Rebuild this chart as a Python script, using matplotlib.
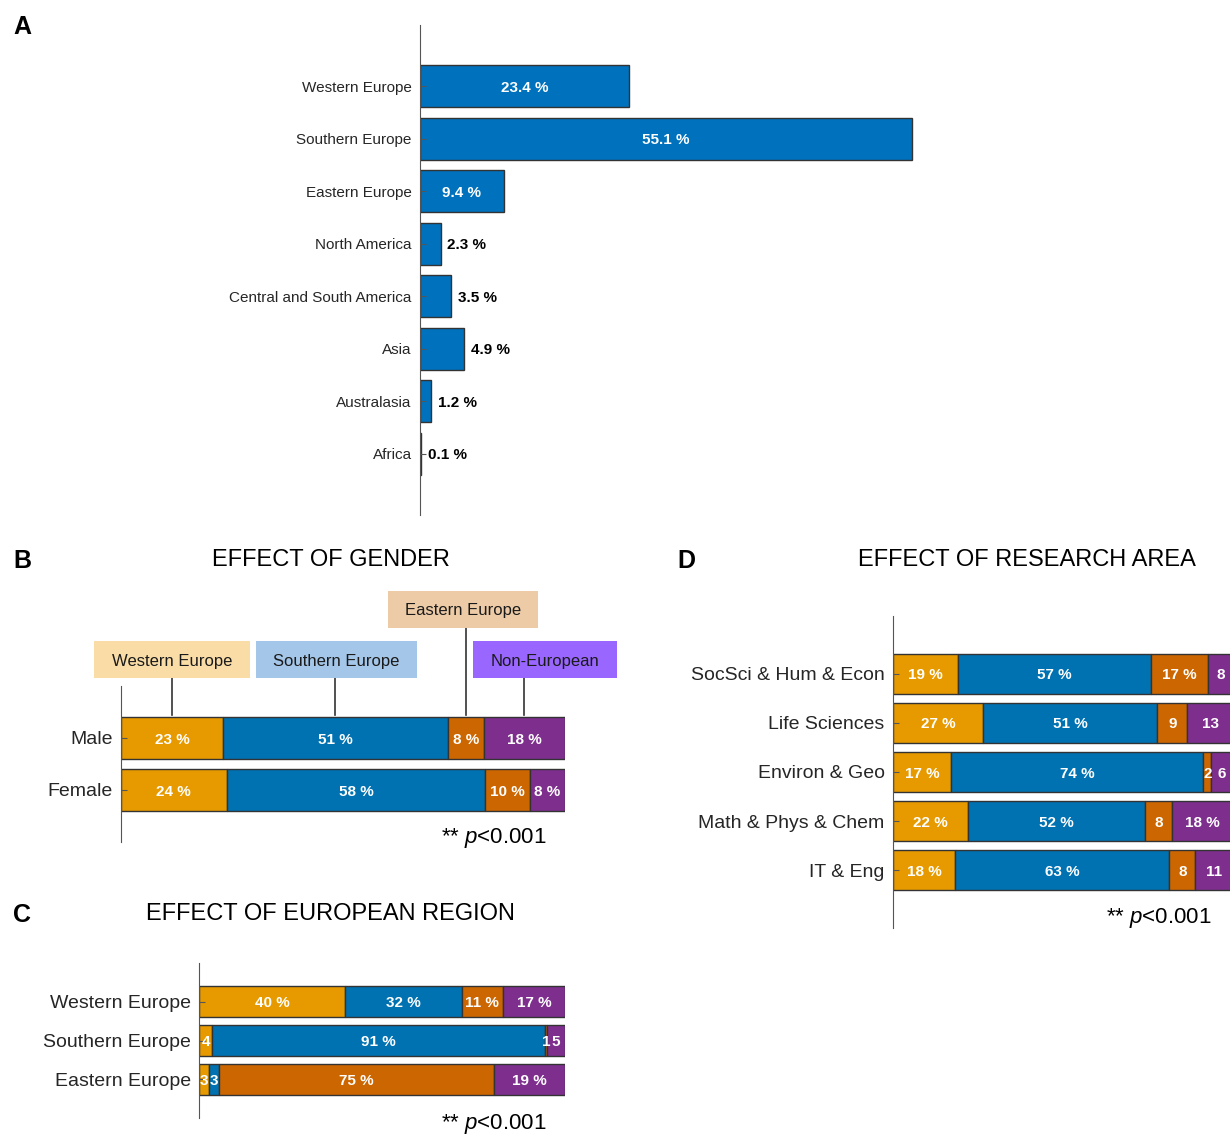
import matplotlib
matplotlib.use("Agg")
import matplotlib.pyplot as plt
from matplotlib.patches import Rectangle
import numpy as np

plt.rcParams['font.family'] = ['Liberation Sans', 'DejaVu Sans']
plt.rcParams['mathtext.fontset'] = 'custom'
plt.rcParams['mathtext.rm'] = 'Liberation Sans'
plt.rcParams['mathtext.it'] = 'Liberation Sans:italic'

# ---- data ----
regions_a = ['Western Europe', 'Southern Europe', 'Eastern Europe', 'North America',
             'Central and South America', 'Asia', 'Australasia', 'Africa']
share_a = [23.4, 55.1, 9.4, 2.3, 3.5, 4.9, 1.2, 0.1]

groups = ['Western Europe', 'Southern Europe', 'Eastern Europe', 'Non-European']

gender_cats = ['Male', 'Female']
gender_west = [23.0, 23.8]
gender_south = [50.6, 58.2]
gender_east = [8.1, 10.1]
gender_noneu = [18.3, 7.9]

region_cats = ['Western Europe', 'Southern Europe', 'Eastern Europe']
region_west = [40.0, 3.6, 2.7]
region_south = [31.8, 91.0, 2.7]
region_east = [11.2, 0.6, 75.3]
region_noneu = [17.0, 4.8, 19.3]

area_cats = ['SocSci & Hum & Econ', 'Life Sciences', 'Environ & Geo',
             'Math & Phys & Chem', 'IT & Eng']
area_west = [19.2, 26.6, 17.1, 22.0, 18.3]
area_south = [56.6, 51.1, 74.2, 52.1, 63.0]
area_east = [16.7, 8.9, 2.3, 8.0, 7.6]
area_noneu = [7.6, 13.4, 6.4, 17.9, 11.1]

colors = ['#E69A00', '#0072B2', '#CC6600', '#7E2F8E']
box_colors = ['#F9DCA6', '#A4C6E8', '#EDCBA6', '#9966FF']

W, H = 1230, 1137
fig = plt.figure(figsize=(W / 100, H / 100), dpi=100)


def px_axes(x0, y0, x1, y1):
    return fig.add_axes([x0 / W, 1 - y1 / H, (x1 - x0) / W, (y1 - y0) / H])


def style_axes(ax, labelsize):
    for s in ['top', 'right', 'bottom']:
        ax.spines[s].set_visible(False)
    ax.spines['left'].set_color('#555555')
    ax.set_xticks([])
    ax.tick_params(axis='y', direction='in', length=4, pad=6,
                   labelsize=labelsize, colors='#555555', labelcolor='#262626')


def stacked(ax, cats, series, pct_min, fontsize=11):
    y = np.arange(1, len(cats) + 1)
    left = np.zeros(len(cats))
    for vals, c in zip(series, colors):
        vals = np.array(vals)
        ax.barh(y, vals, left=left, height=0.8, color=c,
                edgecolor='#333333', linewidth=1)
        for yi, l, v in zip(y, left, vals):
            txt = f'{v:.0f} %' if v >= pct_min else f'{v:.0f}'
            ax.text(l + v / 2, yi, txt, ha='center', va='center_baseline', color='white',
                    fontweight='bold', fontsize=fontsize, clip_on=True)
        left = left + vals
    ax.set_yticks(y)
    ax.set_yticklabels(cats)
    ax.set_xlim(0, 100)
    return y


# ---- panel A ----
axA = px_axes(420, 25, 956, 515)
ya = np.arange(len(regions_a))
axA.barh(ya, share_a, height=0.8, color='#0072BD', edgecolor='#333333', linewidth=1)
for yi, v in zip(ya, share_a):
    if v > 9:
        axA.text(v / 2, yi, f'{v} %', ha='center', va='center_baseline', color='white',
                 fontweight='bold', fontsize=11)
    else:
        axA.annotate(f'{v} %', (v, yi), xytext=(5, 0), textcoords='offset points',
                     ha='left', va='center_baseline', color='black',
                     fontweight='bold', fontsize=11)
axA.set_yticks(ya)
axA.set_yticklabels(regions_a)
axA.set_xlim(0, 60)
axA.set_ylim(8.17, -1.17)
style_axes(axA, 11)

# ---- panel B ----
axB = px_axes(121, 686, 565, 842)
yb = stacked(axB, gender_cats, [gender_west, gender_south, gender_east, gender_noneu], 5)
axB.set_ylim(3, 0)
style_axes(axB, 14)

# group legend boxes with connectors to the male bar
box_x = [(-6.1, 29.05, -0.865, -0.154), (30.4, 66.7, -0.865, -0.154),
         (60.1, 93.9, -1.83, -1.115), (79.3, 111.7, -0.865, -0.154)]
male = [gender_west[0], gender_south[0], gender_east[0], gender_noneu[0]]
centers = np.cumsum(male) - np.array(male) / 2
for g, bc, (x0, x1, y0, y1), xc in zip(groups, box_colors, box_x, centers):
    axB.plot([xc, xc], [0.55, y1], color='#333333', lw=1.2, clip_on=False)
    axB.add_patch(Rectangle((x0, y0), x1 - x0, y1 - y0, facecolor=bc,
                            edgecolor='none', clip_on=False, zorder=3))
    axB.text((x0 + x1) / 2, (y0 + y1) / 2, g, ha='center', va='center_baseline',
             fontsize=12, color='#1a1a1a', zorder=4)

# ---- panel C ----
axC = px_axes(199, 963, 565, 1118)
stacked(axC, region_cats, [region_west, region_south, region_east, region_noneu], 10)
axC.set_ylim(4, 0)
style_axes(axC, 14)

# ---- panel D ----
axD = px_axes(893, 616, 1233, 928)
stacked(axD, area_cats, [area_west, area_south, area_east, area_noneu], 15)
axD.set_ylim(6.18, -0.18)
style_axes(axD, 14)

# ---- titles, letters, p-values ----
def ftext(x, y, s, **kw):
    fig.text(x / W, 1 - y / H, s, **kw)

for letter, (x, y) in zip('ABCD', [(22, 25), (22, 558), (22, 912), (686, 558)]):
    ftext(x, y, letter, fontsize=18, fontweight='bold', ha='center', va='center_baseline')
ftext(331, 558, 'EFFECT OF GENDER', fontsize=17, ha='center', va='center_baseline')
ftext(330, 912, 'EFFECT OF EUROPEAN REGION', fontsize=17, ha='center', va='center_baseline')
ftext(1027, 558, 'EFFECT OF RESEARCH AREA', fontsize=17, ha='center', va='center_baseline')
for x, y in [(547, 835), (547, 1120), (1212, 915)]:
    ftext(x, y, r'** $p$<0.001', fontsize=16, ha='right', va='center_baseline')

fig.savefig('out.png', dpi=100)
